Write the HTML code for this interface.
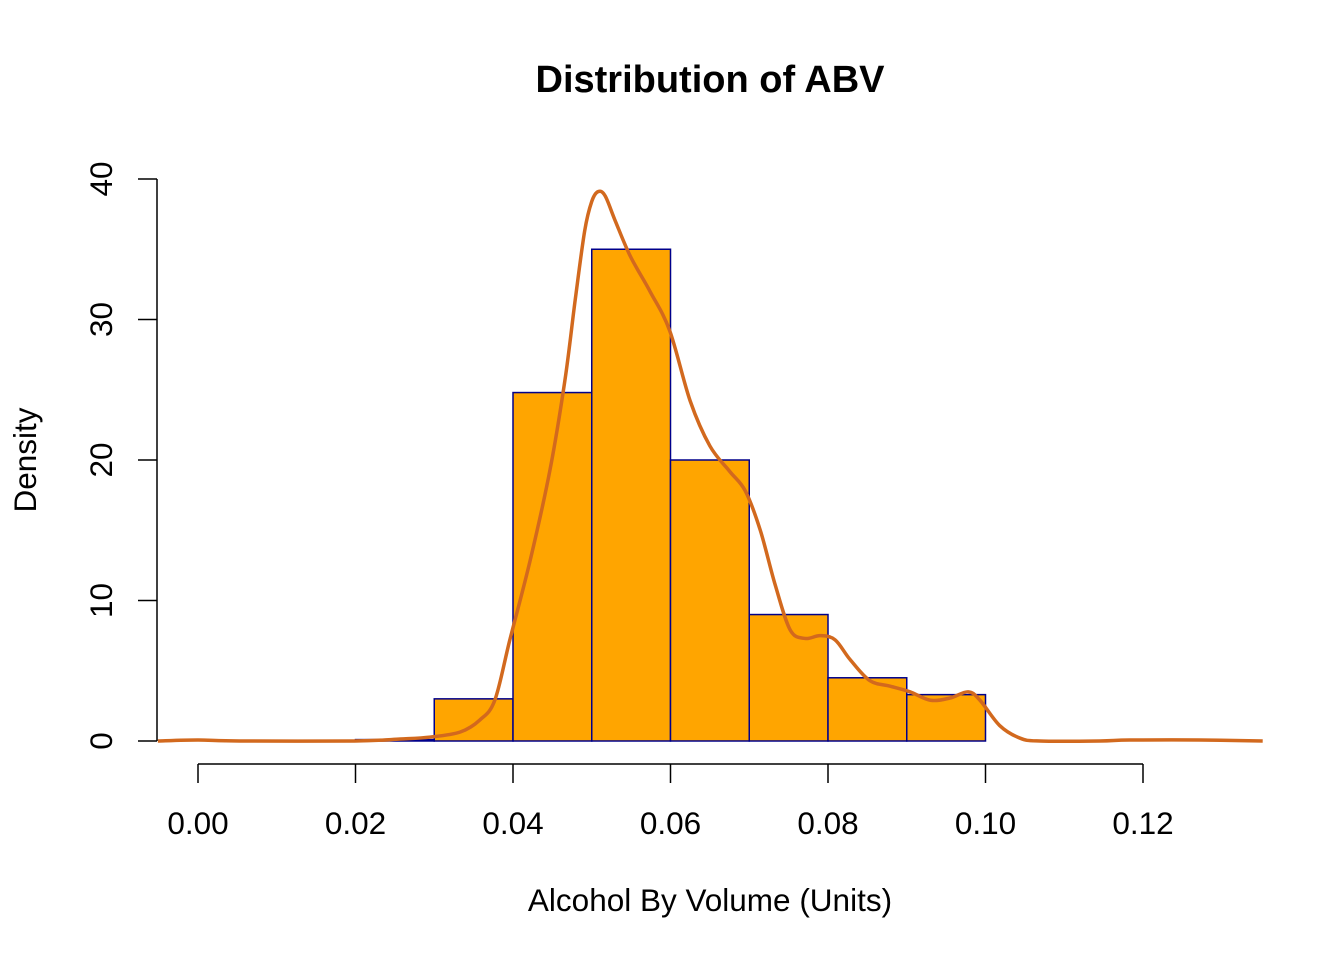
<!DOCTYPE html>
<html><head><meta charset="utf-8"><style>
html,body{margin:0;padding:0;background:#fff;}
svg{display:block;font-family:"Liberation Sans",Arial,sans-serif;}
</style></head><body>
<svg id="chart" width="1344" height="960" viewBox="0 0 1344 960">
<text x="710" y="92" text-anchor="middle" font-size="38" font-weight="bold">Distribution of ABV</text>
<text x="710" y="911" text-anchor="middle" font-size="31.5">Alcohol By Volume (Units)</text>
<text transform="translate(36,460) rotate(-90)" text-anchor="middle" font-size="31.5">Density</text>
<g id="bars"></g>
<g id="curve"></g>
<g id="xaxis"></g>
<g id="yaxis"></g>
</svg>
<script>
const binEdges = [0.02,0.03,0.04,0.05,0.06,0.07,0.08,0.09,0.10];
const binDensity = [0.1,3,24.8,35,20,9,4.5,3.3];
const xTicks = [0,0.02,0.04,0.06,0.08,0.10,0.12];
const xTickLabels = ["0.00","0.02","0.04","0.06","0.08","0.10","0.12"];
const yTicks = [0,10,20,30,40];
const yTickLabels = ["0","10","20","30","40"];
const densX = [-0.0051,0,0.0053,0.0199,0.0257,0.0295,0.0333,0.0358,0.0377,0.0396,0.0422,0.0447,0.0466,0.0479,0.0491,0.05,0.0508,0.0517,0.0530,0.0549,0.0574,0.0599,0.0625,0.065,0.0675,0.0695,0.0714,0.0733,0.0752,0.0771,0.079,0.0809,0.0828,0.0853,0.0879,0.0904,0.093,0.0955,0.0978,0.0993,0.1018,0.1044,0.1069,0.1145,0.1183,0.1272,0.1352];
const densY = [0,0.07,0,0,0.14,0.28,0.64,1.5,2.92,7.2,12.9,19.3,25.7,31.4,36.3,38.4,39.1,38.8,37.0,34.5,32.0,29.2,24.2,21.0,19.2,17.8,15.0,11.1,7.9,7.3,7.5,7.2,5.8,4.3,3.9,3.5,2.9,3.06,3.5,2.9,1.1,0.2,0,0,0.07,0.07,0];

const NS="http://www.w3.org/2000/svg";
const X = v => 198 + v*7875;
const Y = v => 741 - v*14.05;
function mk(tag, attrs, parent){const e=document.createElementNS(NS,tag);for(const k in attrs)e.setAttribute(k,attrs[k]);parent.appendChild(e);return e;}

const bars=document.getElementById('bars');
binDensity.forEach((d,i)=>{
  const x0=X(binEdges[i]), x1=X(binEdges[i+1]);
  const r=mk('rect',{x:x0,y:Y(d),width:x1-x0,height:Y(0)-Y(d),fill:'#FFA500',stroke:'#00008B','stroke-width':1.5},bars);
  
  
});

const curve=document.getElementById('curve');
const pts=densX.map((x,i)=>[X(x),Y(densY[i])]);
let d='M'+pts[0][0]+','+pts[0][1];
for(let i=0;i<pts.length-1;i++){
  const p0=pts[Math.max(0,i-1)],p1=pts[i],p2=pts[i+1],p3=pts[Math.min(pts.length-1,i+2)];
  const c1=[p1[0]+(p2[0]-p0[0])/6,p1[1]+(p2[1]-p0[1])/6];
  const c2=[p2[0]-(p3[0]-p1[0])/6,p2[1]-(p3[1]-p1[1])/6];
  d+=` C${c1[0]},${c1[1]} ${c2[0]},${c2[1]} ${p2[0]},${p2[1]}`;
}
const pl=mk('path',{d:d,fill:'none',stroke:'#D2691E','stroke-width':3.5,'stroke-linejoin':'round'},curve);



const xa=document.getElementById('xaxis');
mk('line',{x1:X(xTicks[0]),y1:764,x2:X(xTicks[xTicks.length-1]),y2:764,stroke:'#000','stroke-width':1.5},xa);
xTicks.forEach((t,i)=>{
  mk('line',{x1:X(t),y1:764,x2:X(t),y2:783,stroke:'#000','stroke-width':1.5},xa);
  const tx=mk('text',{x:X(t),y:834,'text-anchor':'middle','font-size':31.5},xa);
  tx.textContent=xTickLabels[i];
  
  
});

const ya=document.getElementById('yaxis');
mk('line',{x1:157,y1:Y(yTicks[0]),x2:157,y2:Y(yTicks[yTicks.length-1]),stroke:'#000','stroke-width':1.5},ya);
yTicks.forEach((t,i)=>{
  mk('line',{x1:157,y1:Y(t),x2:138,y2:Y(t),stroke:'#000','stroke-width':1.5},ya);
  const tx=mk('text',{transform:`translate(112,${Y(t)}) rotate(-90)`,'text-anchor':'middle','font-size':31.5},ya);
  tx.textContent=yTickLabels[i];
  
  
});
</script>
</body></html>
